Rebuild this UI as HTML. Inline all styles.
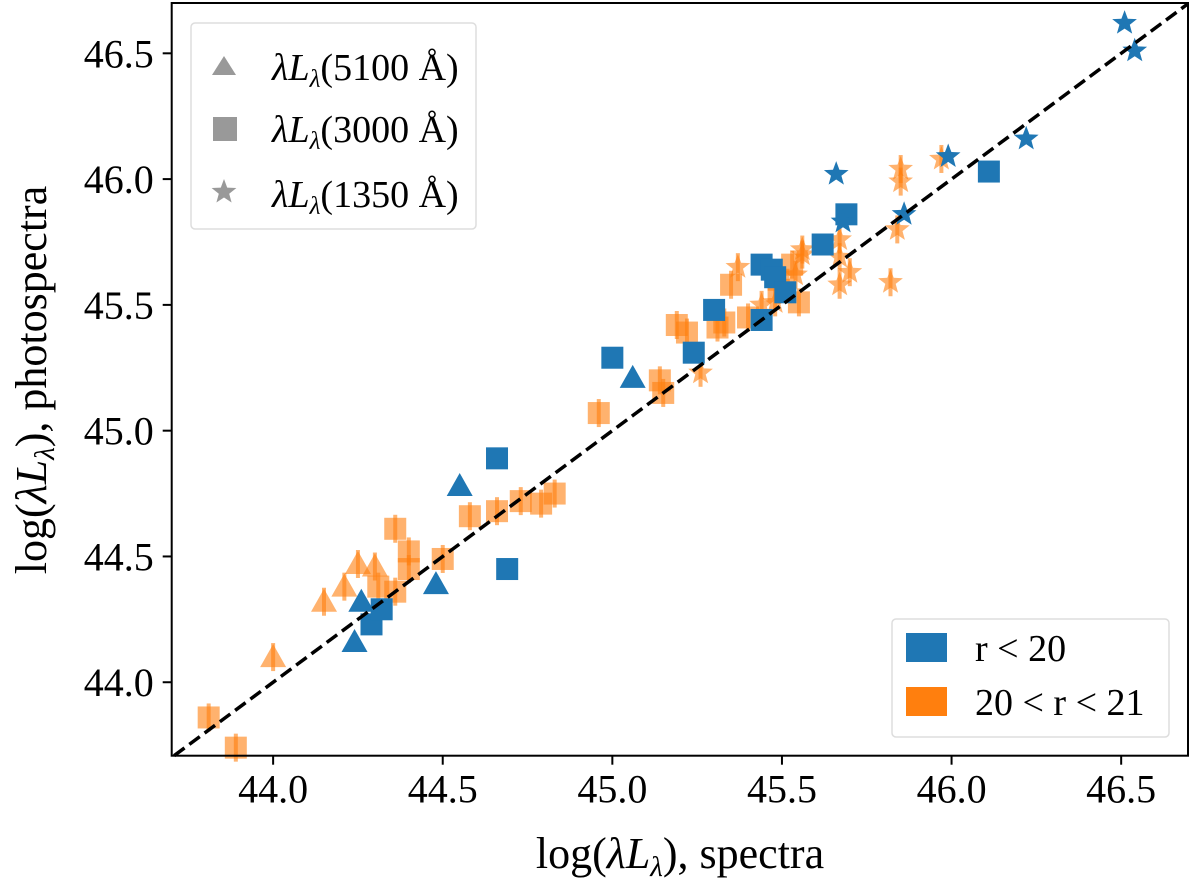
<!DOCTYPE html>
<html><head><meta charset="utf-8"><style>
body{margin:0;background:#fff}
svg{display:block;font-family:"Liberation Serif",serif}
</style></head><body>
<svg id="chart" width="1200" height="894" viewBox="0 0 1200 894" xmlns="http://www.w3.org/2000/svg">
<g id="marks"></g>
<g id="axes"></g>
<g>
 <rect x="191" y="23" width="285" height="206" rx="4" fill="#fff" fill-opacity="0.8" stroke="#ddd" stroke-width="1.5"/>
 <polygon points="212,75 236,75 224,56" fill="#999"/>
 <rect x="213" y="117" width="24" height="24" fill="#999"/>
 <polygon id="lstar" fill="#999"/>
 <text x="272" y="80" font-size="38"><tspan font-style="italic">λL</tspan><tspan font-style="italic" font-size="25" dy="7">λ</tspan><tspan dy="-7">(5100 Å)</tspan></text>
 <text x="272" y="142" font-size="38"><tspan font-style="italic">λL</tspan><tspan font-style="italic" font-size="25" dy="7">λ</tspan><tspan dy="-7">(3000 Å)</tspan></text>
 <text x="272" y="207" font-size="38"><tspan font-style="italic">λL</tspan><tspan font-style="italic" font-size="25" dy="7">λ</tspan><tspan dy="-7">(1350 Å)</tspan></text>
</g>
<g>
 <rect x="892" y="619" width="277" height="118" rx="4" fill="#fff" fill-opacity="0.8" stroke="#ddd" stroke-width="1.5"/>
 <rect x="906" y="633" width="41" height="29" fill="#1f77b4"/>
 <rect x="906" y="687" width="41" height="29" fill="#ff7f0e"/>
 <text x="975" y="661" font-size="38">r &lt; 20</text>
 <text x="975" y="715" font-size="38">20 &lt; r &lt; 21</text>
</g>
<text x="680" y="868" font-size="44" text-anchor="middle">log(<tspan font-style="italic">λL</tspan><tspan font-style="italic" font-size="29" dy="8">λ</tspan><tspan dy="-8">), spectra</tspan></text>
<text transform="translate(46,380) rotate(-90)" font-size="44" text-anchor="middle">log(<tspan font-style="italic">λL</tspan><tspan font-style="italic" font-size="29" dy="8">λ</tspan><tspan dy="-8">), photospectra</tspan></text>
</svg>
<script>
const xTicks=[44.0,44.5,45.0,45.5,46.0,46.5];
const yTicks=[44.0,44.5,45.0,45.5,46.0,46.5];
const blueTriX=[44.24,44.26,44.48,44.55,45.06];
const blueTriY=[44.16,44.32,44.39,44.78,45.21];
const blueSqX=[44.29,44.32,44.69,44.66,45.00,45.24,45.30,45.44,45.44,45.47,45.48,45.51,45.62,45.69,46.11];
const blueSqY=[44.23,44.29,44.45,44.89,45.29,45.31,45.48,45.44,45.66,45.64,45.61,45.55,45.74,45.86,46.03];
const blueStarX=[45.66,45.68,45.86,45.99,46.22,46.51,46.54];
const blueStarY=[46.02,45.83,45.86,46.09,46.16,46.62,46.51];
const orTriX=[44.00,44.15,44.21,44.25,44.30];
const orTriY=[44.10,44.32,44.38,44.47,44.46];
const orSqX=[43.81,43.89,44.31,44.36,44.36,44.40,44.40,44.50,44.58,44.66,44.73,44.79,44.83,44.96,45.14,45.15,45.19,45.22,45.31,45.33,45.35,45.40,45.49,45.49,45.53,45.55];
const orSqY=[43.86,43.74,44.38,44.36,44.61,44.52,44.45,44.49,44.66,44.68,44.72,44.71,44.75,45.07,45.20,45.15,45.42,45.39,45.41,45.43,45.58,45.45,45.60,45.56,45.66,45.51];
const orStarX=[45.26,45.37,45.44,45.48,45.54,45.56,45.56,45.67,45.67,45.67,45.70,45.82,45.84,45.85,45.85,45.97];
const orStarY=[45.23,45.65,45.50,45.51,45.62,45.72,45.70,45.76,45.69,45.58,45.63,45.59,45.80,46.04,45.99,46.08];
const X0=43.701,X1=46.697,Y0=43.708,Y1=46.70;
const L=171.7,R=1188,T=3,B=755.7;
const sx=v=>L+(v-X0)/(X1-X0)*(R-L);
const sy=v=>B-(v-Y0)/(Y1-Y0)*(B-T);
const NS="http://www.w3.org/2000/svg";
const marks=document.getElementById('marks'), axes=document.getElementById('axes');
function mk(tag,attrs,parent){const e=document.createElementNS(NS,tag);for(const k in attrs)e.setAttribute(k,attrs[k]);parent.appendChild(e);return e;}
function starPts(cx,cy,r){let p=[];for(let i=0;i<10;i++){const a=-Math.PI/2+i*Math.PI/5;const rr=i%2?r*0.42:r;p.push((cx+rr*Math.cos(a)).toFixed(1)+','+(cy+rr*Math.sin(a)).toFixed(1));}return p.join(' ');}
document.getElementById('lstar').setAttribute('points',starPts(224,192,13));
function draw(xs,ys,shape,color,alpha,err,name){
 xs.forEach((xv,i)=>{const cx=sx(xv),cy=sy(ys[i]);let e;
  if(err){const eb=mk('line',{x1:cx,x2:cx,y1:cy-14,y2:cy+14,stroke:color,'stroke-width':4,opacity:alpha},marks);
   
   }
  if(shape==='sq')e=mk('rect',{x:cx-11,y:cy-11,width:22,height:22,fill:color,opacity:alpha},marks);
  else if(shape==='tri')e=mk('polygon',{points:`${cx-13},${cy+10} ${cx+13},${cy+10} ${cx},${cy-13}`,fill:color,opacity:alpha},marks);
  else e=mk('polygon',{points:starPts(cx,cy,13),fill:color,opacity:alpha},marks);
  
  
 });
}
draw(orSqX,orSqY,'sq','#ff7f0e',0.6,true,'faint-3000-point');
draw(orTriX,orTriY,'tri','#ff7f0e',0.6,true,'faint-5100-point');
draw(orStarX,orStarY,'star','#ff7f0e',0.6,true,'faint-1350-point');
draw(blueSqX,blueSqY,'sq','#1f77b4',1,false,'bright-3000-point');
draw(blueTriX,blueTriY,'tri','#1f77b4',1,false,'bright-5100-point');
draw(blueStarX,blueStarY,'star','#1f77b4',1,false,'bright-1350-point');
const lo=Math.max(X0,Y0),hi=Math.min(X1,Y1);
const dl=mk('line',{x1:sx(lo),y1:sy(lo),x2:sx(hi),y2:sy(hi),stroke:'#000','stroke-width':3.5,'stroke-dasharray':'13,6'},marks);


const fr=mk('rect',{x:L,y:T,width:R-L,height:B-T,fill:'none',stroke:'#000','stroke-width':2},axes);


xTicks.forEach(t=>{const x=sx(t);
 const tl=mk('line',{x1:x,x2:x,y1:B,y2:B+9,stroke:'#000','stroke-width':2},axes);
 
 
 const tx=mk('text',{x:x,y:B+47,'font-size':40,'text-anchor':'middle'},axes);tx.textContent=t.toFixed(1);
 
 });
yTicks.forEach(t=>{const y=sy(t);
 const tl=mk('line',{x1:L-9,x2:L,y1:y,y2:y,stroke:'#000','stroke-width':2},axes);
 
 
 const tx=mk('text',{x:L-18,y:y+14,'font-size':40,'text-anchor':'end'},axes);tx.textContent=t.toFixed(1);
 
 });
</script>
</body></html>
